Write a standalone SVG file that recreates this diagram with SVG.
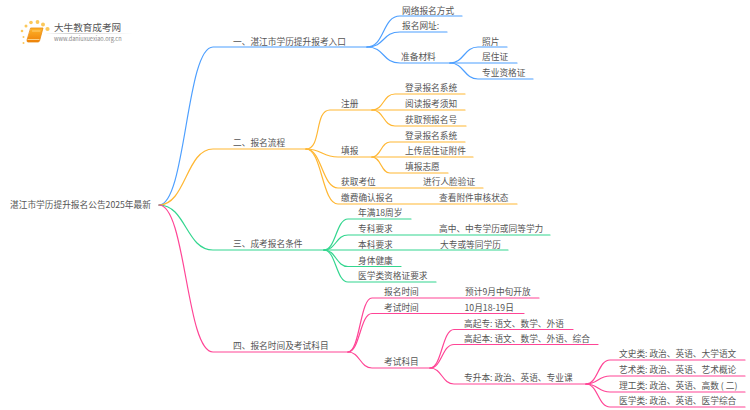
<svg xmlns="http://www.w3.org/2000/svg" width="750" height="410" viewBox="0 0 750 410">
<style>
text{font-family:"Noto Sans CJK SC","Noto Sans",sans-serif;font-size:8.7px;fill:#555}
path{fill:none;stroke-width:1.2;stroke-linecap:round}
.b path{stroke:#4d9fff}.o path{stroke:#ffb733}.g path{stroke:#33d68f}.p path{stroke:#ff4596}
.u{font-size:5.6px;fill:#888}.t{font-size:9.6px;fill:#555}
</style>
<defs><linearGradient id="lg"><stop offset="0" stop-color="#ccc" stop-opacity="0"/><stop offset=".3" stop-color="#ccc"/><stop offset="1" stop-color="#ccc" stop-opacity="0"/></linearGradient>
<linearGradient id="bk" x1="0" y1="0" x2="0" y2="1"><stop offset="0" stop-color="#ffb52a"/><stop offset="1" stop-color="#ee8008"/></linearGradient></defs>
<g id="logo">
<g fill="#fbc85a"><circle cx="23.500" cy="37" r="1"/><circle cx="22" cy="31" r="1.300"/><circle cx="26" cy="26" r="1.500"/><circle cx="31" cy="22.500" r="1.800"/><circle cx="37.500" cy="22" r="1.900"/><circle cx="43" cy="24.500" r="2"/><circle cx="47.500" cy="29" r="2.100"/><circle cx="23.500" cy="43" r="1"/></g>
<path d="M31 28H43L39.500 41Q39 42 38 42H28Q26.500 42 27 40Z" style="fill:url(#bk);stroke:#e98a10;stroke-width:.8"/>
<path d="M28 39.500H39" style="stroke:#ffe3a8;stroke-width:.8"/>
<path d="M32.500 31H40" style="stroke:#ffd98a;stroke-width:.8"/>
<rect x="45" y="33" width="88" height="1" fill="url(#lg)"/>
<text class="t" x="54" y="30.500">大牛教育成考网</text>
<text class="u" x="54" y="41">www.daniuxuexiao.org.cn</text>
</g>
<g id="connectors">
<g class="b">
<path d="M159 205C186 205 186 47 213 47H367" stroke-width="1.400"/>
<path d="M367 47C385 47 382 16 400 16H462"/>
<path d="M367 47C385 47 382 32 400 32H447"/>
<path d="M367 47C385 47 382 63 400 63H450"/>
<path d="M450 63C464 63 464 47 478 47H507"/>
<path d="M450 63H517"/>
<path d="M450 63C464 63 464 79 478 79H533"/>
</g>
<g class="o">
<path d="M159 205C186 205 186 149 213 149H306"/>
<path d="M306 149C322 149 314 110 330 110H372"/>
<path d="M306 149C322 149 322 157 338 157H372"/>
<path d="M306 149C322 149 322 188 338 188H483"/>
<path d="M306 149C322 149 322 204 338 204H517"/>
<path d="M372 110C384 110 383 94 395 94H465"/>
<path d="M372 110H465"/>
<path d="M372 110C384 110 383 126 395 126H466"/>
<path d="M372 157C381 157 381 142 390 142H465"/>
<path d="M372 157H473"/>
<path d="M372 157C381 157 381 173 390 173H448"/>
</g>
<g class="g">
<path d="M159 205C186 205 186 250 213 250H324"/>
<path d="M324 250C336 250 336 219 348 219H411"/>
<path d="M324 250C336 250 336 235 348 235H550"/>
<path d="M324 250H508"/>
<path d="M324 250C336 250 336 266.500 348 266.500H401"/>
<path d="M324 250C336 250 336 282 348 282H436"/>
</g>
<g class="p">
<path d="M159 205C186 205 186 352 213 352H348"/>
<path d="M348 352C360 352 360 298 372 298H539"/>
<path d="M348 352C360 352 360 313.500 372 313.500H524"/>
<path d="M348 352C360 352 360 368 372 368H430"/>
<path d="M430 368C442 368 442 329.500 454 329.500H573"/>
<path d="M430 368C442 368 442 344.500 454 344.500H598"/>
<path d="M430 368C442 368 442 384 454 384H586"/>
<path d="M586 384C598 384 598 360 610 360H745"/>
<path d="M586 384C598 384 598 376 610 376H745"/>
<path d="M586 384C598 384 598 392 610 392H745"/>
<path d="M586 384C598 384 598 407 610 407H745"/>
</g>
</g>
<g id="root"><text x="10" y="208">湛江市学历提升报名公告2025年最新</text></g>
<g id="n1"><text x="233" y="44.500">一、湛江市学历提升报考入口</text></g>
<g id="n1-1"><text x="402" y="13.500">网络报名方式</text></g>
<g id="n1-2"><text x="402" y="29">报名网址:</text></g>
<g id="n1-3"><text x="401" y="60">准备材料</text></g>
<g id="n1-3-1"><text x="482" y="44.500">照片</text></g>
<g id="n1-3-2"><text x="482" y="60">居住证</text></g>
<g id="n1-3-3"><text x="482" y="76">专业资格证</text></g>
<g id="n2"><text x="233" y="146">二、报名流程</text></g>
<g id="n2-1"><text x="341" y="107">注册</text></g>
<g id="n2-1-1"><text x="405" y="91">登录报名系统</text></g>
<g id="n2-1-2"><text x="405" y="107">阅读报考须知</text></g>
<g id="n2-1-3"><text x="405" y="123">获取预报名号</text></g>
<g id="n2-2"><text x="341" y="154">填报</text></g>
<g id="n2-2-1"><text x="405" y="138.500">登录报名系统</text></g>
<g id="n2-2-2"><text x="405" y="154">上传居住证附件</text></g>
<g id="n2-2-3"><text x="405" y="170">填报志愿</text></g>
<g id="n2-3"><text x="341" y="185">获取考位</text></g>
<g id="n2-3-1"><text x="423" y="185">进行人脸验证</text></g>
<g id="n2-4"><text x="341" y="201">缴费确认报名</text></g>
<g id="n2-4-1"><text x="439" y="201">查看附件审核状态</text></g>
<g id="n3"><text x="233" y="247">三、成考报名条件</text></g>
<g id="n3-1"><text x="358" y="216">年满18周岁</text></g>
<g id="n3-2"><text x="358" y="232">专科要求</text></g>
<g id="n3-2-1"><text x="439" y="232">高中、中专学历或同等学力</text></g>
<g id="n3-3"><text x="358" y="247.500">本科要求</text></g>
<g id="n3-3-1"><text x="440" y="247.500">大专或等同学历</text></g>
<g id="n3-4"><text x="358" y="263.500">身体健康</text></g>
<g id="n3-5"><text x="358" y="279">医学类资格证要求</text></g>
<g id="n4"><text x="233" y="349">四、报名时间及考试科目</text></g>
<g id="n4-1"><text x="384" y="295">报名时间</text></g>
<g id="n4-1-1"><text x="465" y="295">预计9月中旬开放</text></g>
<g id="n4-2"><text x="384" y="310.500">考试时间</text></g>
<g id="n4-2-1"><text x="464.500" y="310.500">10月18-19日</text></g>
<g id="n4-3"><text x="384" y="365">考试科目</text></g>
<g id="n4-3-1"><text x="464" y="326.500">高起专: 语文、数学、外语</text></g>
<g id="n4-3-2"><text x="464" y="341.500">高起本: 语文、数学、外语、综合</text></g>
<g id="n4-3-3"><text x="464" y="381">专升本: 政治、英语、专业课</text></g>
<g id="n4-3-3-1"><text x="619" y="357">文史类: 政治、英语、大学语文</text></g>
<g id="n4-3-3-2"><text x="619" y="373">艺术类: 政治、英语、艺术概论</text></g>
<g id="n4-3-3-3"><text x="619" y="389">理工类: 政治、英语、高数 ( 二)</text></g>
<g id="n4-3-3-4"><text x="619" y="404">医学类: 政治、英语、医学综合</text></g>
</svg>
